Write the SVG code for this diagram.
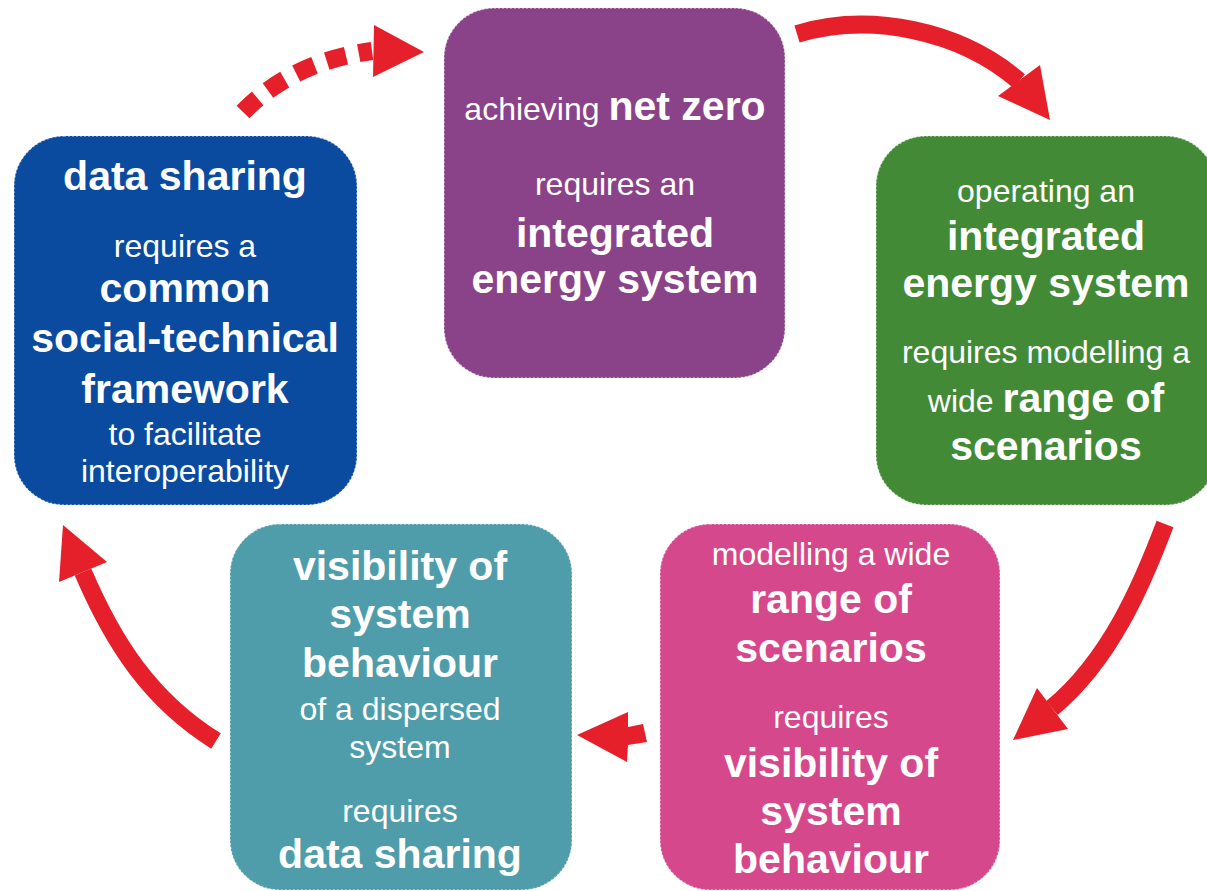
<svg xmlns="http://www.w3.org/2000/svg" width="1207" height="891" viewBox="0 0 1207 891">
<style>
.box{stroke:#ffffff;stroke-opacity:0.55;stroke-width:1.6;stroke-dasharray:2 2}
text{font-family:"Liberation Sans",Arial,sans-serif;fill:#ffffff;text-anchor:middle}
.r{font-size:32px;font-weight:normal}
.b{font-size:41px;font-weight:bold}
.band{fill:none;stroke:#e5202a;stroke-width:18;stroke-linecap:butt}
.head{fill:#e5202a}
</style>
<rect width="1207" height="891" fill="#ffffff"/>
<g id="connectors">
<path class="band" d="M243,112 Q292,62 372,51" stroke-dasharray="20 13"/>
<polygon class="head" points="374,25 424,52 373,77"/>
<path class="band" d="M797,34 C870,12 960,30 1019,81"/>
<polygon class="head" points="1040,65 1050,120 998,96"/>
<path class="band" d="M1165,524 C1142,585 1110,660 1052,708"/>
<polygon class="head" points="1068,729 1013,740 1037,688"/>
<polygon class="head" points="577,735 628,712 628,727 643,724 647,742 628,745 627,762"/>
<path class="band" d="M216,741 C150,700 113,642 83,572"/>
<polygon class="head" points="59,582 63,525 107,562"/>
</g>
<g id="node-data-sharing">
<rect class="box" x="14" y="136" width="343" height="369" rx="50" fill="#0a4ba0"/>
<text class="b" x="185" y="190">data sharing</text>
<text class="r" x="185" y="257">requires a</text>
<text class="b" x="185" y="302">common</text>
<text class="b" x="185" y="352">social-technical</text>
<text class="b" x="185" y="403">framework</text>
<text class="r" x="185" y="445">to facilitate</text>
<text class="r" x="185" y="482">interoperability</text>
</g>
<g id="node-net-zero">
<rect class="box" x="444" y="8" width="341" height="370" rx="50" fill="#8a4389"/>
<text x="615" y="120"><tspan class="r">achieving </tspan><tspan class="b">net zero</tspan></text>
<text class="r" x="615" y="195">requires an</text>
<text class="b" x="615" y="247">integrated</text>
<text class="b" x="615" y="293">energy system</text>
</g>
<g id="node-integrated">
<rect class="box" x="876" y="136" width="340" height="369" rx="50" fill="#428a36"/>
<text class="r" x="1046" y="202">operating an</text>
<text class="b" x="1046" y="250">integrated</text>
<text class="b" x="1046" y="297">energy system</text>
<text class="r" x="1046" y="363">requires modelling a</text>
<text x="1046" y="412"><tspan class="r">wide </tspan><tspan class="b">range of</tspan></text>
<text class="b" x="1046" y="460">scenarios</text>
</g>
<g id="node-scenarios">
<rect class="box" x="660" y="524" width="340" height="366" rx="50" fill="#d5488b"/>
<text class="r" x="831" y="565">modelling a wide</text>
<text class="b" x="831" y="613">range of</text>
<text class="b" x="831" y="662">scenarios</text>
<text class="r" x="831" y="728">requires</text>
<text class="b" x="831" y="777">visibility of</text>
<text class="b" x="831" y="825">system</text>
<text class="b" x="831" y="873">behaviour</text>
</g>
<g id="node-visibility">
<rect class="box" x="230" y="524" width="342" height="366" rx="50" fill="#4f9daa"/>
<text class="b" x="400" y="580">visibility of</text>
<text class="b" x="400" y="628">system</text>
<text class="b" x="400" y="677">behaviour</text>
<text class="r" x="400" y="720">of a dispersed</text>
<text class="r" x="400" y="758">system</text>
<text class="r" x="400" y="822">requires</text>
<text class="b" x="400" y="868">data sharing</text>
</g>
</svg>
